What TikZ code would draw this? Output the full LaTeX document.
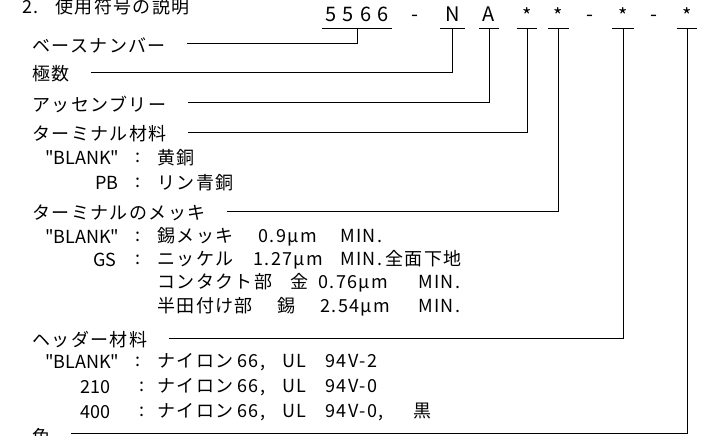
\documentclass[tikz,border=0pt]{standalone}
\usepackage{fontspec}
\setmainfont{Noto Sans CJK JP}[LetterSpace=8]
\newfontfamily\codefont{Noto Sans CJK JP}[LetterSpace=32]
\newfontfamily\keyfont{Noto Sans CJK JP}
\usetikzlibrary{positioning,calc}
\tikzset{
	lbl/.style={anchor=west, inner sep=0pt, font=\fontsize{18}{18}\selectfont},
	key/.style={anchor=west, inner sep=0pt, font=\keyfont\fontsize{18}{18}\selectfont},
	val/.style={anchor=west, inner sep=0pt, font=\fontsize{18}{18}\selectfont},
	code/.style={anchor=base, inner sep=0pt, text depth=6pt, font=\codefont\fontsize{20}{20}\selectfont},
	lead/.style={line width=0.7pt, shorten <=21pt},
	uline/.style={line width=0.7pt}
}
\newcommand{\wild}{\raisebox{-2pt}{*}}
\newcommand{\blank}{\textquotedbl BLANK\textquotedbl}
\newcommand{\col}[2]{\makebox[#1pt][l]{#2}}

\begin{document}
\begin{tikzpicture}[x=1pt,y=-1pt]
	\useasboundingbox (0,0) rectangle (704,436);
	\node[lbl] (title) at (22,7) {\col{33}{2.}使用符号の説明};
	% code
	\node[code, minimum width=70pt] (base) at (357,22) {5566};
	\node[code] (dash1) at (415,22) {-};
	\node[code, minimum width=25pt] (pole) at (452.5,22) {N};
	\node[code, minimum width=20pt] (assy) at (489,22) {A};
	\node[code, minimum width=20pt] (term) at (527,22) {\wild};
	\node[code, minimum width=21pt] (plate) at (558.5,22) {\wild};
	\node[code] (dash2) at (590,22) {-};
	\node[code, minimum width=22pt] (hdr) at (623,22) {\wild};
	\node[code] (dash3) at (654,22) {-};
	\node[code, minimum width=20pt] (colr) at (687,22) {\wild};
	\foreach \c in {base,pole,assy,term,plate,hdr,colr}
		\draw[uline] (\c.south west) -- (\c.south east);
	% labels
	\node[lbl] (lbase) at (32,45) {ベースナンバー};
	\node[lbl] (lpole) at (32,74) {極数};
	\node[lbl] (lassy) at (32,104) {アッセンブリー};
	\node[lbl] (lterm) at (32,134) {ターミナル材料};
	\node[key] (kterm1) at (45,158) {\blank};
	\node[key] (cterm1) at (135,158) {:};
	\node[val] (vterm1) at (157,158) {黄銅};
	\node[key] (kterm2) at (95,183) {PB};
	\node[key] (cterm2) at (135,183) {:};
	\node[val] (vterm2) at (157,183) {リン青銅};
	\node[lbl] (lplate) at (32,213) {ターミナルのメッキ};
	\node[key] (kplate1) at (45,237) {\blank};
	\node[key] (cplate1) at (135,237) {:};
	\node[val] (vplate1) at (157,237) {\col{101}{錫メッキ}\col{82}{0.9µm}MIN.};
	\node[key] (kplate2) at (93,260) {GS};
	\node[key] (cplate2) at (135,260) {:};
	\node[val] (vplate2) at (157,260) {\col{96}{ニッケル}\col{87}{1.27µm}\col{45}{MIN.}全面下地};
	\node[val] (vplate3) at (157,283) {\col{133}{コンタクト部}\col{28}{金}\col{100}{0.76µm}MIN.};
	\node[val] (vplate4) at (157,307) {\col{120}{半田付け部}\col{43}{錫}\col{98}{2.54µm}MIN.};
	\node[lbl] (lhdr) at (32,340) {ヘッダー材料};
	\node[key] (khdr1) at (45,362) {\blank};
	\node[key] (chdr1) at (135,362) {:};
	\node[val] (vhdr1) at (157,362) {\col{80}{ナイロン}\col{45}{66,}\col{43}{UL}94V-2};
	\node[key] (khdr2) at (80,387) {210};
	\node[key] (chdr2) at (139,387) {:};
	\node[val] (vhdr2) at (157,387) {\col{80}{ナイロン}\col{45}{66,}\col{43}{UL}94V-0};
	\node[key] (khdr3) at (80,412) {400};
	\node[key] (chdr3) at (139,412) {:};
	\node[val] (vhdr3) at (157,412) {\col{80}{ナイロン}\col{45}{66,}\col{43}{UL}\col{88}{94V-0,}黒};
	\node[lbl] (lcol) at (32,437) {色};
	% leaders
	\draw[lead] ([yshift=2pt]lbase.east) -| (base.south);
	\draw[lead] ([yshift=2pt]lpole.east) -| (pole.south);
	\draw[lead] ([yshift=2pt]lassy.east) -| (assy.south);
	\draw[lead] ([yshift=2pt]lterm.east) -| (term.south);
	\draw[lead] ([yshift=2pt]lplate.east) -| (plate.south);
	\draw[lead] ([yshift=2pt]lhdr.east) -| (hdr.south);
	\draw[lead] ([yshift=4pt]lcol.east) -| (colr.south);
\end{tikzpicture}
\end{document}
